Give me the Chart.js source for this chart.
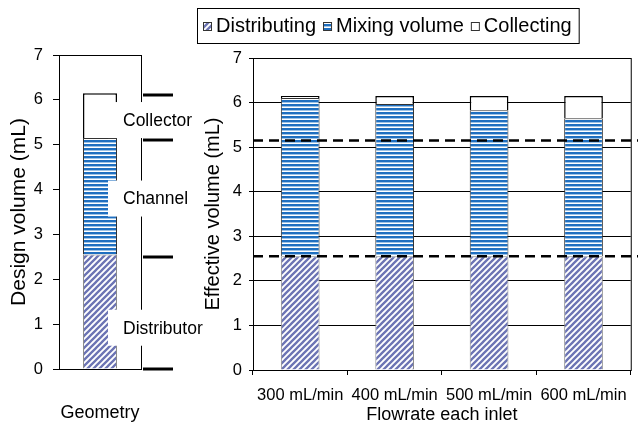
<!DOCTYPE html>
<html>
<head>
<meta charset="utf-8">
<script src="https://cdn.jsdelivr.net/npm/chart.js@4"></script>
<style>
    html, body { margin: 0; padding: 0; background: #fff; }
    #wrap { position: relative; width: 638px; height: 432px; overflow: hidden; }
    #geoChart { position: absolute; left: 0; top: 0; }
    #flowChart { position: absolute; left: 195px; top: 0; }
</style>
</head>
<body>
<div id="wrap">
    <canvas id="geoChart" width="215" height="432"></canvas>
    <canvas id="flowChart" width="443" height="432"></canvas>
</div>
<script>
// series names shared by both panels
const seriesNames = ['Distributing', 'Mixing volume', 'Collecting'];

// design geometry (left panel)
const geometryLabel = 'Geometry';
const geometryDistributing = [2.55];
const geometryMixing = [2.6];
const geometryCollecting = [1.0];
const geometryMarks = [0, 2.5, 5.1, 6.1];
const geometryParts = ['Collector', 'Channel', 'Distributor'];

// effective volumes per flowrate (right panel)
const flowrates = ['300 mL/min', '400 mL/min', '500 mL/min', '600 mL/min'];
const effDistributing = [2.55, 2.55, 2.55, 2.55];
const effMixing = [3.55, 3.42, 3.28, 3.10];
const effCollecting = [0.05, 0.18, 0.32, 0.50];
const designLevels = [2.55, 5.15];

const FONT = '"Liberation Sans", Arial, sans-serif';
Chart.defaults.font.family = FONT;
Chart.defaults.color = '#000';

// hatch fills
function diagonalFill(ctx) {
    const tile = document.createElement('canvas');
    tile.width = 6; tile.height = 6;
    const g = tile.getContext('2d');
    g.fillStyle = '#fff';
    g.fillRect(0, 0, 6, 6);
    g.strokeStyle = '#6c74b4';
    g.lineWidth = 2.3;
    g.beginPath();
    g.moveTo(-1, 1); g.lineTo(1, -1);
    g.moveTo(-1, 7); g.lineTo(7, -1);
    g.moveTo(5, 7); g.lineTo(7, 5);
    g.stroke();
    return ctx.createPattern(tile, 'repeat');
}

function stripeFill(ctx) {
    const tile = document.createElement('canvas');
    tile.width = 4; tile.height = 4;
    const g = tile.getContext('2d');
    g.fillStyle = '#fff';
    g.fillRect(0, 0, 4, 4);
    g.fillStyle = '#1f6fc0';
    g.fillRect(0, 0, 4, 2);
    g.fillStyle = '#9cc2e6';
    g.fillRect(0, 2, 4, 1);
    return ctx.createPattern(tile, 'repeat');
}

function makeDatasets(ctx, dist, mix, coll) {
    return [
        { label: seriesNames[0], data: dist, backgroundColor: diagonalFill(ctx), borderColor: '#8c8c8c', borderWidth: 1 },
        { label: seriesNames[1], data: mix, backgroundColor: stripeFill(ctx), borderColor: '#333', borderWidth: 1 },
        { label: seriesNames[2], data: coll, backgroundColor: '#fff', borderColor: '#000', borderWidth: 1.5 }
    ];
}

// box around the plot area
const framePlugin = {
    id: 'frame',
    beforeDatasetsDraw(chart) {
        const { ctx, chartArea: a } = chart;
        ctx.save();
        ctx.strokeStyle = '#000';
        ctx.lineWidth = 1;
        ctx.strokeRect(a.left + 0.5, a.top + 0.5, a.right - a.left, a.bottom - a.top);
        ctx.restore();
    }
};

// thick level marks and part names beside the geometry bar
const geometryNotes = {
    id: 'geometryNotes',
    afterDatasetsDraw(chart) {
        const { ctx, chartArea: a } = chart;
        const y = chart.scales.y;
        ctx.save();
        ctx.strokeStyle = '#000';
        ctx.lineWidth = 3;
        geometryMarks.forEach(v => {
            const py = Math.round(y.getPixelForValue(v));
            ctx.beginPath();
            ctx.moveTo(a.right + 2, py);
            ctx.lineTo(a.right + 32, py);
            ctx.stroke();
        });
        // part names sit beside each segment
        const centres = [5.55, 3.8, 0.92];
        ctx.font = '17.5px ' + FONT;
        ctx.textBaseline = 'middle';
        geometryParts.forEach((name, i) => {
            const py = y.getPixelForValue(centres[i]);
            const w = ctx.measureText(name).width;
            ctx.fillStyle = '#fff';
            ctx.fillRect(a.left + 49, py - 18, w + 19, 36);
            ctx.fillStyle = '#000';
            ctx.fillText(name, a.left + 64, py + 1);
        });
        ctx.restore();
    }
};

// dashed design levels across the effective volume panel
const levelLines = {
    id: 'levelLines',
    afterDatasetsDraw(chart) {
        const { ctx, chartArea: a } = chart;
        const y = chart.scales.y;
        ctx.save();
        ctx.strokeStyle = '#000';
        ctx.lineWidth = 2.5;
        ctx.setLineDash([10, 6]);
        designLevels.forEach(v => {
            const py = y.getPixelForValue(v);
            ctx.beginPath();
            ctx.moveTo(a.left, py);
            ctx.lineTo(chart.width, py);
            ctx.stroke();
        });
        ctx.restore();
    }
};

// framed legend above the right panel
const boxLegend = {
    id: 'boxLegend',
    afterDraw(chart) {
        const { ctx } = chart;
        const cy = 26;
        ctx.save();
        ctx.font = '20px ' + FONT;
        ctx.textBaseline = 'middle';
        let x = 8;
        chart.data.datasets.forEach((ds, i) => {
            ctx.fillStyle = ds.backgroundColor;
            ctx.fillRect(x, cy - 4, 8, 8);
            ctx.strokeStyle = '#333';
            ctx.lineWidth = 1;
            ctx.strokeRect(x + 0.5, cy - 3.5, 8, 8);
            ctx.fillStyle = '#000';
            ctx.fillText(ds.label, x + 13, cy);
            x += 13 + ctx.measureText(ds.label).width + 7;
        });
        ctx.strokeStyle = '#000';
        ctx.lineWidth = 1;
        ctx.strokeRect(2.5, 8.5, x - 2, 35);
        ctx.restore();
    }
};

// left panel: design volume
const geoCtx = document.getElementById('geoChart').getContext('2d');
new Chart(geoCtx, {
    type: 'bar',
    data: {
        labels: [geometryLabel],
        datasets: makeDatasets(geoCtx, geometryDistributing, geometryMixing, geometryCollecting)
    },
    options: {
        responsive: false,
        animation: false,
        devicePixelRatio: 1,
        layout: { padding: { top: 55, right: 74, left: 0, bottom: 0 } },
        datasets: { bar: { categoryPercentage: 1, barPercentage: 0.415 } },
        plugins: { legend: { display: false }, tooltip: { enabled: false } },
        scales: {
            x: {
                stacked: true,
                ticks: { display: false },
                grid: { display: false },
                border: { color: '#000' },
                title: { display: true, text: geometryLabel, font: { size: 18 }, padding: { top: 0, bottom: 8 } },
                afterFit: s => { s.height = 63; }
            },
            y: {
                stacked: true,
                min: 0,
                max: 7,
                ticks: { stepSize: 1, font: { size: 16.5 }, padding: 10 },
                grid: { drawOnChartArea: false, color: '#000', tickLength: 6 },
                border: { color: '#000' },
                title: { display: true, text: 'Design volume (mL)', font: { size: 21 }, padding: { top: 7, bottom: 0 } },
                afterFit: s => { s.width = 59; }
            }
        }
    },
    plugins: [framePlugin, geometryNotes]
});

// right panel: effective volume per flowrate
const flowCtx = document.getElementById('flowChart').getContext('2d');
new Chart(flowCtx, {
    type: 'bar',
    data: {
        labels: flowrates,
        datasets: makeDatasets(flowCtx, effDistributing, effMixing, effCollecting)
    },
    options: {
        responsive: false,
        animation: false,
        devicePixelRatio: 1,
        layout: { padding: { top: 58, right: 3, left: 0, bottom: 0 } },
        datasets: { bar: { categoryPercentage: 1, barPercentage: 0.41 } },
        plugins: { legend: { display: false }, tooltip: { enabled: false } },
        scales: {
            x: {
                stacked: true,
                grid: { offset: true, drawOnChartArea: false, color: '#000', tickLength: 5 },
                border: { color: '#000' },
                ticks: { font: { size: 16.5 }, padding: 11, maxRotation: 0, autoSkip: false },
                title: { display: true, text: 'Flowrate each inlet', font: { size: 18 }, padding: { top: 0, bottom: 6 } },
                afterFit: s => { s.height = 62; }
            },
            y: {
                stacked: true,
                min: 0,
                max: 7,
                ticks: { stepSize: 1, font: { size: 16.5 }, padding: 7 },
                grid: { color: '#000', tickLength: 4 },
                border: { color: '#000' },
                title: { display: true, text: 'Effective volume (mL)', font: { size: 20 }, padding: { top: 6, bottom: 0 } },
                afterFit: s => { s.width = 58; }
            }
        }
    },
    plugins: [framePlugin, levelLines, boxLegend]
});
</script>
</body>
</html>
